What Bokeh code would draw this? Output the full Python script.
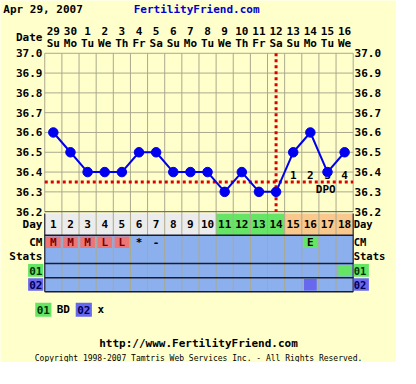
from bokeh.plotting import figure
from bokeh.models import Range1d, ColumnDataSource, Label
from bokeh.core.properties import value
from bokeh.embed import file_html
from bokeh.resources import INLINE

# ---------------- data ----------------
chart_date = "Apr 29, 2007"
site_name = "FertilityFriend.com"
site_url = "http://www.FertilityFriend.com"
copyright_text = "Copyright 1998-2007 Tamtris Web Services Inc. - All Rights Reserved."

cycle_days = list(range(1, 19))
dates = ["29", "30", "1", "2", "3", "4", "5", "6", "7", "8", "9", "10",
         "11", "12", "13", "14", "15", "16"]
weekdays = ["Su", "Mo", "Tu", "We", "Th", "Fr", "Sa", "Su", "Mo", "Tu",
            "We", "Th", "Fr", "Sa", "Su", "Mo", "Tu", "We"]
temps = [36.6, 36.5, 36.4, 36.4, 36.4, 36.5, 36.5, 36.4, 36.4, 36.4,
         36.3, 36.4, 36.3, 36.3, 36.5, 36.6, 36.4, 36.5]
temp_ticks = [36.2, 36.3, 36.4, 36.5, 36.6, 36.7, 36.8, 36.9, 37.0]
coverline = 36.35
ovulation_day = 14
dpo_days = [15, 16, 17, 18]
dpo_labels = ["1", "2", "3", "4"]
day_phase = ["pre"] * 10 + ["fertile"] * 4 + ["post"] * 4
cm_codes = ["M", "M", "M", "L", "L", "*", "-", "", "", "", "", "", "", "",
            "", "E", "", ""]
bd_days = [18]
x_days = [16]
table_rows = ["Day", "CM", "Stats", "01", "02"]
legend_codes = ["01", "02"]
legend_names = ["BD", "x"]

# ---------------- styles ----------------
BG = "#ffffcc"
GRID = "#aba98d"
BLUE_ROW = "#8cb0ee"
GREEN = "#66e466"
PEACH = "#f8c88c"
GRAY = "#ececec"
PINK = "#ec7676"
PURPLE = "#6868ee"
RED = "#dd0000"
LINE_BLUE = "#0000ee"
DARK = "#1c1c30"
FONT_NAME = "DejaVu Sans Mono"
FONT = value(FONT_NAME)
phase_colors = {"pre": GRAY, "fertile": GREEN, "post": PEACH}


# layout helpers: reference pixel -> data units
def X(px):
    return 1 + (px - 55.5) / 18.0


def Y(py):
    return 37.0 - (py - 56.0) / 210.0


p = figure(width=396, height=362, output_backend="svg", toolbar_location=None,
           x_range=Range1d(X(0), X(416)), y_range=Range1d(Y(384), Y(0)),
           x_axis_location=None, y_axis_location=None, min_border=0,
           background_fill_color=BG, border_fill_color=BG, outline_line_color=None)
p.grid.visible = False

x0, x1 = cycle_days[0] - 0.5, cycle_days[-1] + 0.5
tmin, tmax = temp_ticks[0], temp_ticks[-1]


def txt(x, y, t, align="center", size="11px", color="black", bold=True):
    p.text(x=x, y=y, text=t, text_font=FONT, text_font_size=size,
           text_font_style="bold" if bold else "normal", text_color=color,
           text_align=align, text_baseline="middle")


# ---------------- table rows ----------------
row_edges = [226, 249, 264, 279, 294, 309]
row_top = [Y(v) for v in row_edges[:-1]]
row_bot = [Y(v) for v in row_edges[1:]]
row_mid = [(a + b) / 2 for a, b in zip(row_top, row_bot)]

# day row
p.quad(left=[d - 0.5 for d in cycle_days], right=[d + 0.5 for d in cycle_days],
       top=row_top[0], bottom=row_bot[0],
       fill_color=[phase_colors[ph] for ph in day_phase], line_color=None)
# blue rows
p.quad(left=x0, right=x1, top=row_top[1], bottom=row_bot[-1],
       fill_color=BLUE_ROW, line_color=None)

# CM cells
cm_cell_days = [d for d, c in zip(cycle_days, cm_codes) if c in ("M", "L", "E")]
cm_cell_cols = [PINK if c in ("M", "L") else GREEN
                for c in cm_codes if c in ("M", "L", "E")]
cm_h = (row_top[1] - row_bot[1]) * 0.82
p.rect(x=cm_cell_days, y=row_mid[1], width=0.86, height=cm_h,
       fill_color=cm_cell_cols, line_color=None)

# BD / x cells
cell_h = (row_top[3] - row_bot[3]) * 0.8
p.rect(x=bd_days, y=row_mid[3], width=0.74, height=cell_h, fill_color=GREEN, line_color=None)
p.rect(x=x_days, y=row_mid[4], width=0.74, height=cell_h, fill_color=PURPLE, line_color=None)

# vertical separators
p.segment(x0=[d + 0.5 for d in cycle_days[:-1]], x1=[d + 0.5 for d in cycle_days[:-1]],
          y0=tmax, y1=row_bot[-1], line_color=GRID, line_width=1)
# dark row lines
dark_rows = [row_bot[0], row_bot[2], row_bot[3], row_bot[4]]
p.segment(x0=x0, x1=x1, y0=dark_rows, y1=dark_rows, line_color=DARK, line_width=1.5)
p.segment(x0=[x0, x1], x1=[x0, x1], y0=row_top[0], y1=row_bot[-1], line_color=DARK, line_width=1.2)

# table texts
txt(cycle_days, row_mid[0], [str(d) for d in cycle_days])
cm_text_cols = ["#7a0000" if c in ("M", "L") else "black" for c in cm_codes]
p.text(x=cycle_days, y=row_mid[1], text=cm_codes, text_font=FONT, text_font_size="11px",
       text_font_style="bold", text_color=cm_text_cols, text_align="center",
       text_baseline="middle")

# row labels (left and right)
label_bg = {"01": GREEN, "02": PURPLE}
label_fg = {"Day": "black", "CM": "black", "Stats": "black", "01": "#003300", "02": "#000055"}
box_rows = [ym for name, ym in zip(table_rows, row_mid) if name in label_bg]
box_cols = [label_bg[name] for name in table_rows if name in label_bg]
for bx0, bx1 in [(X(29), X(45)), (X(371), X(387))]:
    p.quad(left=bx0, right=bx1, top=[y + 0.033 for y in box_rows],
           bottom=[y - 0.031 for y in box_rows], fill_color=box_cols, line_color=None)
row_fg = [label_fg[n] for n in table_rows]
p.text(x=[X(44)] * len(table_rows), y=row_mid, text=table_rows, text_font=FONT,
       text_font_size="11px", text_font_style="bold", text_color=row_fg,
       text_align="right", text_baseline="middle")
for name, ym, fg in zip(table_rows, row_mid, row_fg):
    p.add_layout(Label(x=X(371), y=ym, text=name, text_font=FONT_NAME,
                       text_font_size="10.5px", text_font_style="bold", text_color=fg,
                       text_align="left", text_baseline="middle"))

# ---------------- temperature chart ----------------
p.quad(left=x0, right=x1, top=tmax, bottom=tmin, fill_color=BG, line_color=None)
p.segment(x0=[d + 0.5 for d in cycle_days[:-1]], x1=[d + 0.5 for d in cycle_days[:-1]],
          y0=tmax, y1=tmin, line_color=GRID, line_width=1)
p.segment(x0=x0, x1=x1, y0=temp_ticks, y1=temp_ticks, line_color=GRID, line_width=1)
p.segment(x0=[x0, x1], x1=[x0, x1], y0=tmax, y1=tmin, line_color=GRID, line_width=1)
p.segment(x0=x0, x1=x1, y0=tmin, y1=tmin, line_color="#666655", line_width=1)

tick_labels = ["%.1f" % t for t in temp_ticks]
txt(X(44), temp_ticks, tick_labels, align="right")
txt(X(372), temp_ticks, tick_labels, align="left")

# coverline and ovulation line
p.line(x=[x0, x1], y=[coverline, coverline], line_color=RED, line_width=3, line_dash="3 3")
p.line(x=[ovulation_day, ovulation_day], y=[tmax, tmin], line_color=RED, line_width=3,
       line_dash="3 3")

# DPO
txt(dpo_days, Y(185), dpo_labels)
txt([dpo_days[1] + 0.9], [Y(200)], ["DPO"])

src = ColumnDataSource(dict(day=cycle_days, temp=temps))
p.line("day", "temp", source=src, line_color=LINE_BLUE, line_width=2)
p.scatter("day", "temp", source=src, size=9.5, marker="circle",
          fill_color=LINE_BLUE, line_color=LINE_BLUE)

# ---------------- header ----------------
txt([X(3)], [Y(10)], [chart_date], align="left")
txt([X(206)], [Y(10)], [site_name], color="#0000cc")
txt([X(44)], [Y(39)], ["Date"], align="right")
txt(cycle_days, Y(32), dates)
txt(cycle_days, Y(46), weekdays)

# ---------------- legend ----------------
leg_x = [X(45), X(87.5)]
leg_cols = [GREEN, PURPLE]
leg_fg = ["#003300", "#000055"]
p.rect(x=leg_x, y=Y(328), width=17 / 18.0, height=15 / 210.0, fill_color=leg_cols,
       line_color=None)
p.text(x=leg_x, y=Y(328), text=legend_codes, text_font=FONT, text_font_size="11px",
       text_font_style="bold", text_color=leg_fg, text_align="center", text_baseline="middle")
txt([X(59), X(102)], Y(328), legend_names, align="left")

# ---------------- footer ----------------
txt([X(208)], [Y(364)], [site_url])
txt([X(208)], [Y(380)], [copyright_text], size="8px", bold=False)

open("out.html", "w").write(file_html(p, INLINE))
